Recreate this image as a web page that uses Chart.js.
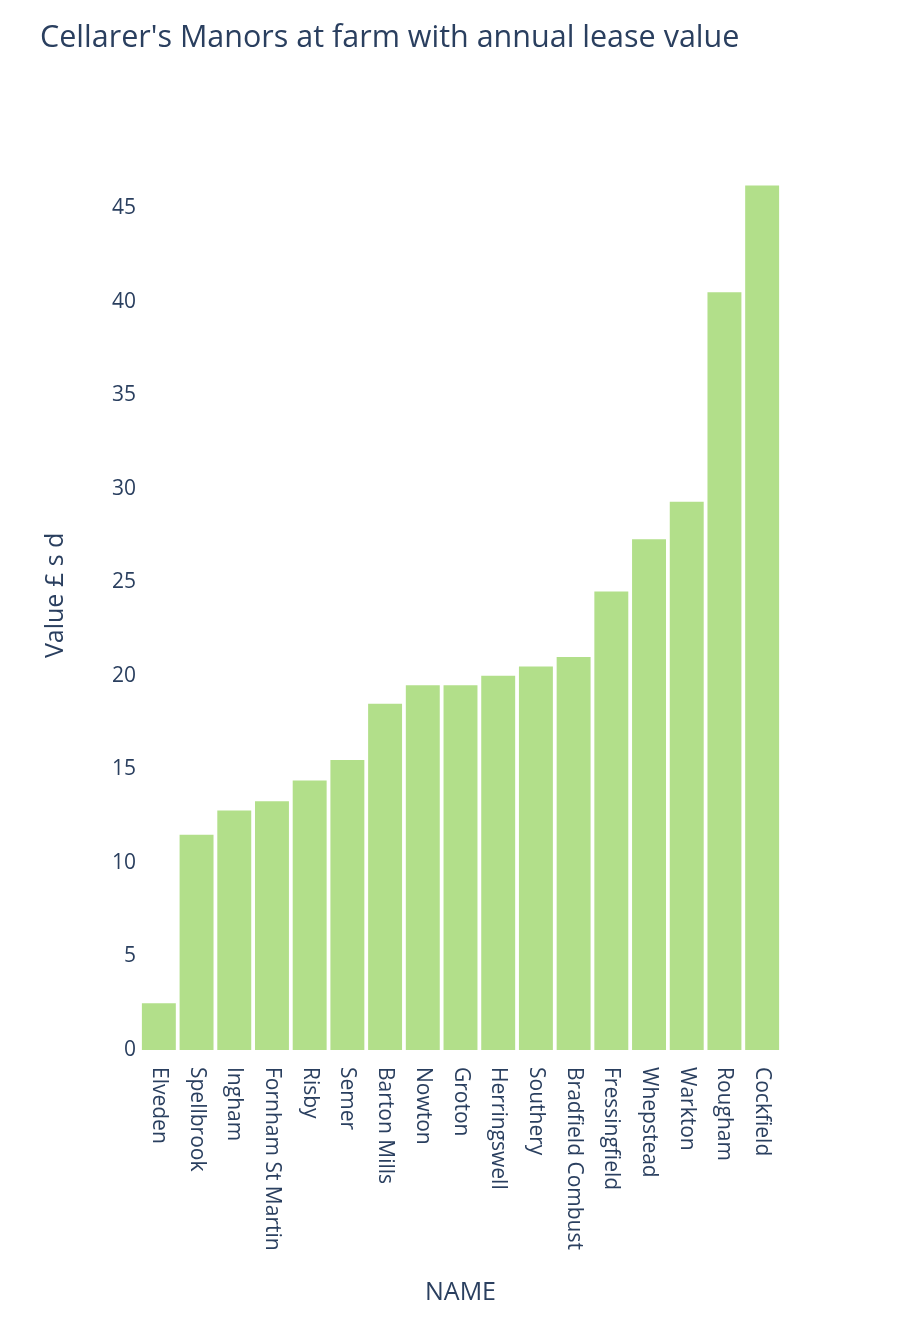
<!DOCTYPE html>
<html>
<head>
<meta charset="utf-8">
<title>Cellarer's Manors</title>
<script src="https://cdn.jsdelivr.net/npm/chart.js@4"></script>
<style>
    html, body { margin: 0; padding: 0; background: #fff; }
    #wrap { width: 900px; height: 1341px; }
</style>
</head>
<body>
<div id="wrap"><canvas id="manorChart"></canvas></div>
<script>
// Data
const manors = ['Elveden', 'Spellbrook', 'Ingham', 'Fornham St Martin', 'Risby', 'Semer',
    'Barton Mills', 'Nowton', 'Groton', 'Herringswell', 'Southery', 'Bradfield Combust',
    'Fressingfield', 'Whepstead', 'Warkton', 'Rougham', 'Cockfield'];
const leaseValues = [2.5, 11.5, 12.8, 13.3, 14.4, 15.5, 18.5, 19.5, 19.5, 20, 20.5, 21,
    24.5, 27.3, 29.3, 40.5, 46.2];
const yTicks = [0, 5, 10, 15, 20, 25, 30, 35, 40, 45];

const textColor = '#2a3f5f';
const fontFamily = '"Open Sans", sans-serif';

// Draw the category labels rotated clockwise, reading top to bottom
const downLabels = {
    id: 'downLabels',
    afterDraw(chart) {
        const ctx = chart.ctx;
        const xScale = chart.scales.x;
        ctx.save();
        ctx.fillStyle = textColor;
        ctx.font = '21px ' + fontFamily;
        ctx.textAlign = 'left';
        ctx.textBaseline = 'middle';
        manors.forEach((name, i) => {
            const x = xScale.getPixelForTick(i);
            ctx.save();
            ctx.translate(x, chart.chartArea.bottom + 17);
            ctx.rotate(Math.PI / 2);
            ctx.fillText(name, 0, 0);
            ctx.restore();
        });
        ctx.restore();
    }
};

const ctx = document.getElementById('manorChart').getContext('2d');
new Chart(ctx, {
    type: 'bar',
    data: {
        labels: manors,
        datasets: [{
            label: 'Value £ s d',
            data: leaseValues,
            backgroundColor: '#b2df8a',
            borderWidth: 0,
            categoryPercentage: 1,
            barPercentage: 0.9
        }]
    },
    options: {
        responsive: true,
        maintainAspectRatio: false,
        animation: false,
        layout: {
            padding: { left: 40, right: 119, top: 0, bottom: 0 }
        },
        plugins: {
            legend: { display: false },
            tooltip: { enabled: false },
            title: {
                display: true,
                text: "Cellarer's Manors at farm with annual lease value",
                align: 'start',
                color: textColor,
                font: { family: fontFamily, size: 30.5, weight: 'normal' },
                padding: { top: 19.7, bottom: 84.4 }
            }
        },
        scales: {
            x: {
                grid: { display: false, drawTicks: false },
                border: { display: false },
                ticks: { display: false },
                title: {
                    display: true,
                    text: 'NAME',
                    color: textColor,
                    font: { family: fontFamily, size: 25 },
                    padding: { top: 228, bottom: 33 }
                }
            },
            y: {
                min: 0,
                max: 48.6,
                grid: { display: false, drawTicks: false },
                border: { display: false },
                afterBuildTicks: (scale) => {
                    scale.ticks = yTicks.map(v => ({ value: v }));
                },
                afterFit: (scale) => {
                    scale.width = 100;
                },
                ticks: {
                    color: textColor,
                    padding: 4,
                    font: { family: fontFamily, size: 21 }
                },
                title: {
                    display: true,
                    text: 'Value £ s d',
                    color: textColor,
                    font: { family: fontFamily, size: 25 },
                    padding: { top: 1, bottom: 0 }
                }
            }
        }
    },
    plugins: [downLabels]
});
</script>
</body>
</html>
